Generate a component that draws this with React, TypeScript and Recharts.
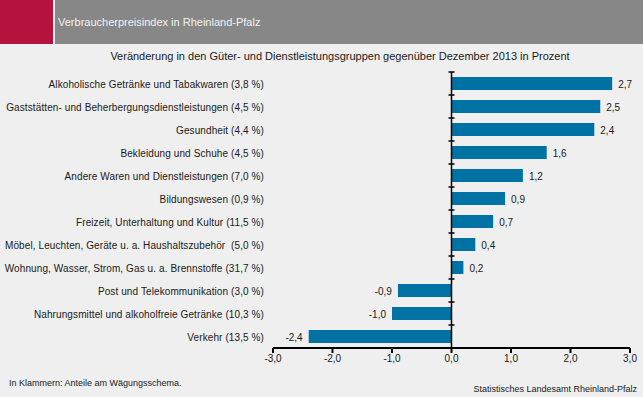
import React from "react";
import {
  BarChart,
  Bar,
  XAxis,
  YAxis,
  LabelList,
  ReferenceLine,
} from "recharts";

const categories = [
  "Alkoholische Getränke und Tabakwaren (3,8 %)",
  "Gaststätten- und Beherbergungsdienstleistungen (4,5 %)",
  "Gesundheit (4,4 %)",
  "Bekleidung und Schuhe (4,5 %)",
  "Andere Waren und Dienstleistungen (7,0 %)",
  "Bildungswesen (0,9 %)",
  "Freizeit, Unterhaltung und Kultur (11,5 %)",
  "Möbel, Leuchten, Geräte u. a. Haushaltszubehör \u00a0(5,0 %)",
  "Wohnung, Wasser, Strom, Gas u. a. Brennstoffe (31,7 %)",
  "Post und Telekommunikation (3,0 %)",
  "Nahrungsmittel und alkoholfreie Getränke (10,3 %)",
  "Verkehr (13,5 %)",
];
const changes = [2.7, 2.5, 2.4, 1.6, 1.2, 0.9, 0.7, 0.4, 0.2, -0.9, -1.0, -2.4];
const xTicks = [-3, -2, -1, 0, 1, 2, 3];

const data = categories.map((name, i) => ({ name, value: changes[i] }));

const W = 643;
const H = 397;
const PLOT_TOP = 72;
const PLOT_BOTTOM = 348;
const PLOT_LEFT = 273;
const PLOT_RIGHT = 630;
const ZERO_X = (PLOT_LEFT + PLOT_RIGHT) / 2;
const BAND = (PLOT_BOTTOM - PLOT_TOP) / categories.length;
const FONT = "'Liberation Sans', Arial, sans-serif";

const fmt = (v: number) => v.toFixed(1).replace(".", ",");

const CategoryTick = (props: any) => {
  const { y, payload } = props;
  const by = y - BAND / 2;
  return (
    <g>
      <text
        x={PLOT_LEFT - 9}
        y={y}
        dy={4}
        textAnchor="end"
        fontSize={10}
        letterSpacing={0.1}
        fill="#1a1a1a"
        fontFamily={FONT}
      >
        {payload.value}
      </text>
      <line x1={ZERO_X - 3} x2={ZERO_X + 3} y1={by} y2={by} stroke="#000" strokeWidth={1.5} />
    </g>
  );
};

const ValueLabel = (props: any) => {
  const { x, y, width, height, value } = props;
  const left = Math.min(x, x + width);
  const right = Math.max(x, x + width);
  const pos = value >= 0;
  return (
    <text
      x={pos ? right + 6 : left - 6}
      y={y + height / 2}
      dy={4}
      textAnchor={pos ? "start" : "end"}
      fontSize={10}
      fill="#1a1a1a"
      fontFamily={FONT}
    >
      {fmt(value)}
    </text>
  );
};

export default function App() {
  return (
    <div
      style={{
        position: "absolute",
        left: 0,
        top: 0,
        width: W,
        height: H,
        background: "#eeefee",
        fontFamily: FONT,
        overflow: "hidden",
      }}
    >
      <div style={{ position: "absolute", left: 0, top: 0, width: 53, height: 44, background: "#b5123e" }} />
      <div style={{ position: "absolute", left: 55, top: 0, width: W - 55, height: 44, background: "#878787" }} />
      <div
        style={{
          position: "absolute",
          left: 58,
          top: 16,
          fontSize: 11,
          color: "#f2f2f2",
          whiteSpace: "nowrap",
        }}
      >
        Verbraucherpreisindex in Rheinland-Pfalz
      </div>
      <div
        style={{
          position: "absolute",
          left: 0,
          width: 680,
          top: 50,
          fontSize: 11,
          color: "#1a1a1a",
          textAlign: "center",
          whiteSpace: "nowrap",
        }}
      >
        Veränderung in den Güter- und Dienstleistungsgruppen gegenüber Dezember 2013 in Prozent
      </div>
      <div style={{ position: "absolute", left: 9, top: 378, fontSize: 9, color: "#1a1a1a", whiteSpace: "nowrap" }}>
        In Klammern: Anteile am Wägungsschema.
      </div>
      <div style={{ position: "absolute", right: 6, top: 384, fontSize: 9, color: "#1a1a1a", whiteSpace: "nowrap" }}>
        Statistisches Landesamt Rheinland-Pfalz
      </div>
      <div style={{ position: "absolute", left: 0, top: 0 }}>
        <BarChart
          width={W}
          height={H}
          data={data}
          layout="vertical"
          margin={{ top: PLOT_TOP, right: W - PLOT_RIGHT, bottom: H - PLOT_BOTTOM - 30, left: 0 }}
        >
          <XAxis
            type="number"
            domain={[-3, 3]}
            ticks={xTicks}
            tickFormatter={fmt}
            height={30}
            axisLine={{ stroke: "#000", strokeWidth: 2 }}
            tickLine={{ stroke: "#000", strokeWidth: 2 }}
            tickSize={5}
            tick={{ fontSize: 10, fill: "#1a1a1a", fontFamily: FONT }}
            interval={0}
          />
          <YAxis
            type="category"
            dataKey="name"
            width={PLOT_LEFT}
            axisLine={false}
            tickLine={false}
            tick={<CategoryTick />}
            interval={0}
          />
          <ReferenceLine x={0} stroke="#000" strokeWidth={1.5} />
          <Bar dataKey="value" fill="#0072a3" barSize={13} isAnimationActive={false}>
            <LabelList dataKey="value" content={<ValueLabel />} />
          </Bar>
        </BarChart>
      </div>
    </div>
  );
}
